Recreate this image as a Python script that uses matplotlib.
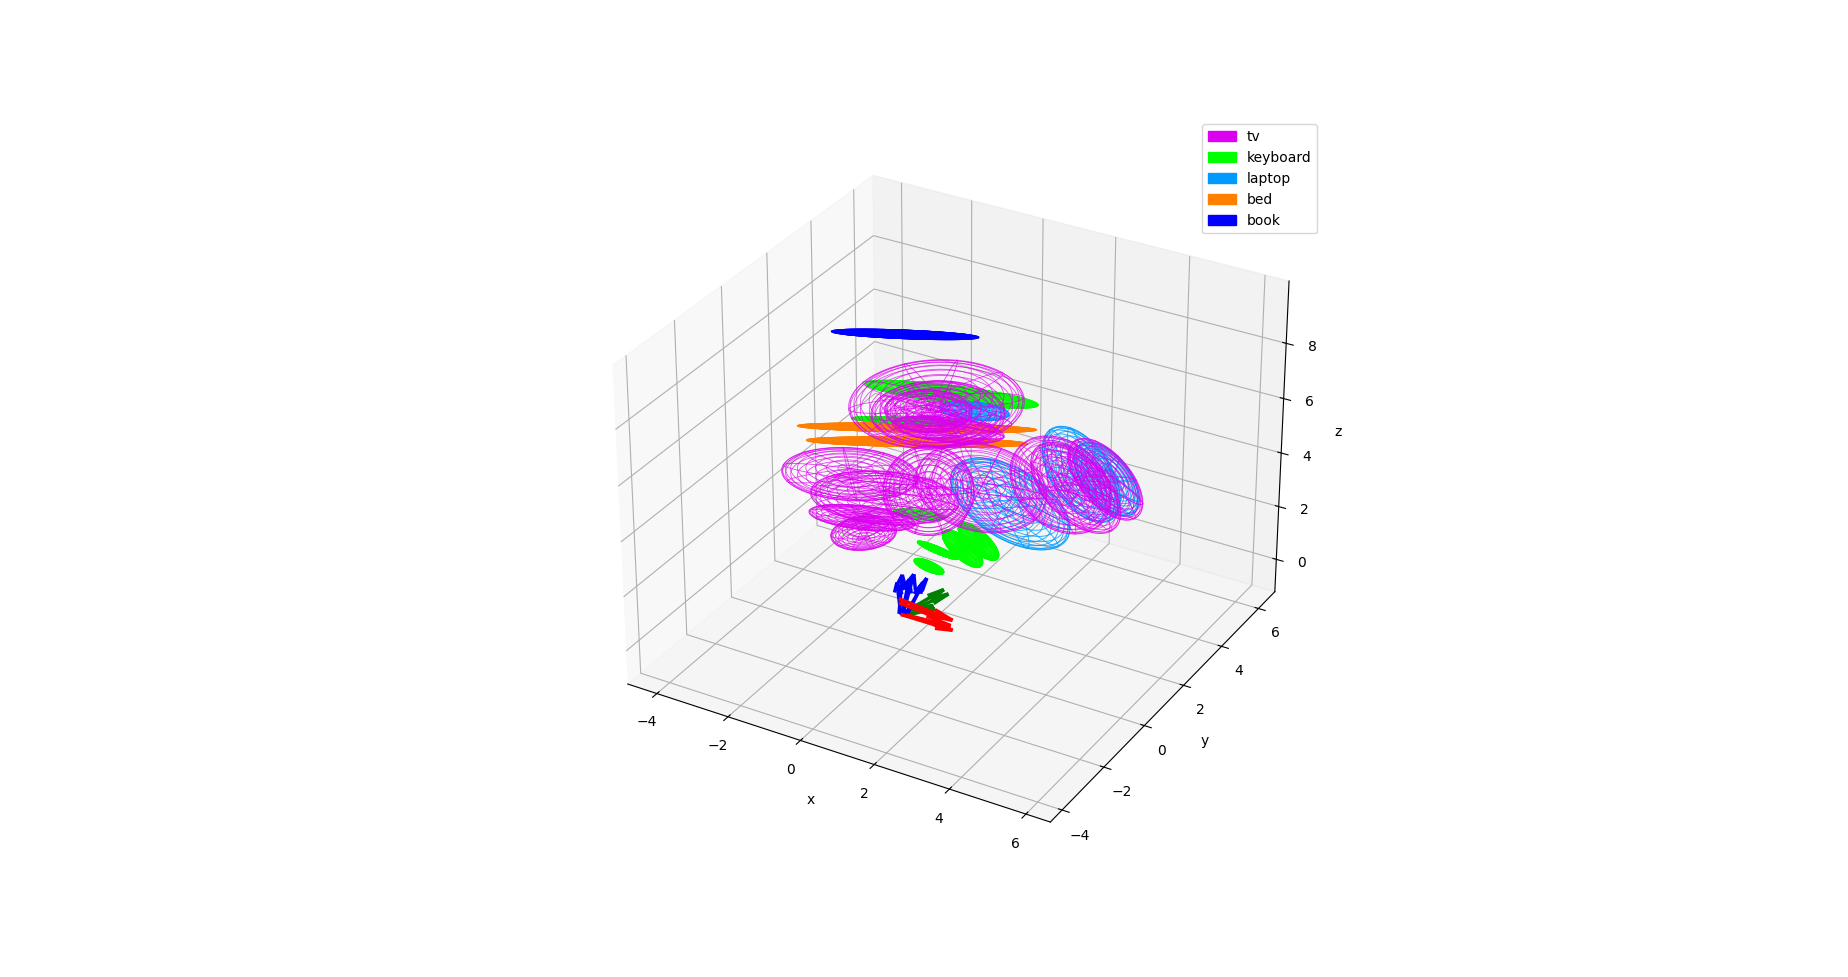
import numpy as np
import matplotlib
matplotlib.use("Agg")
import matplotlib.pyplot as plt
from matplotlib.patches import Patch

labels = ["tv", "keyboard", "laptop", "bed", "book"]
colors = ["#dc00f0", "#00ff00", "#0099ff", "#ff7f00", "#0000ff"]

# center x, y, z / radii / rotation about x, rotation about z (degrees)
tv_centers = [(-0.14, 2, 6.46), (-0.10, 2, 6.11), (0.17, 2, 5.62), (-0.37, 2, 6.11), (-2.59, 2, 2.95),
              (-1.61, 2, 2.44), (-2.26, 2, 1.43), (-2.22, 2, 0.86), (-0.37, 2, 3.17), (1.07, 2, 3.83),
              (3.23, 2, 4.77), (3.63, 2, 4.83), (4.41, 2, 5.44)]
tv_radii = [(2.05, 2.2, 0.3), (1.6, 1.6, 0.25), (1.38, 0.53, 0.2), (1.06, 1.0, 0.2), (1.7, 1.25, 0.2),
            (1.85, 1.22, 0.25), (1.35, 0.53, 0.15), (0.85, 0.74, 0.2), (1.1, 1.67, 0.2), (1.63, 1.62, 0.25),
            (1.36, 1.7, 0.2), (1.59, 1.36, 0.2), (1.44, 1.16, 0.2)]
tv_rx = [0, 0, 0, 0, 0, 0, 0, 0, 90, 90, 90, 90, 90]
tv_rz = [0, 0, 15, 0, 15, 15, 15, 70, 30, 15, 0, -20, -25]

keyboard_centers = [(0.26, 2, 6.94), (-0.91, 2, 5.55), (0.57, 2, 1.39), (1.01, 2, 1.83),
                    (-0.12, 2, 1.05), (-0.37, 2, 0.34), (-0.64, 2, 2.18)]
keyboard_radii = [(2.12, 0.4, 0.08), (1.38, 0.12, 0.05), (0.95, 0.3, 0.1), (0.95, 0.3, 0.1),
                  (0.64, 0.12, 0.05), (0.48, 0.18, 0.05), (0.64, 0.2, 0.05)]
keyboard_rx = [0, 0, 0, 0, 0, 0, 0]
keyboard_rz = [15, 25, -35, -35, -10, -15, 15]

laptop_centers = [(3.77, 2, 5.37), (1.87, 2, 3.56), (0.89, 2, 6.57), (4.45, 2, 5.46)]
laptop_radii = [(1.52, 1.45, 0.2), (1.83, 1.42, 0.25), (0.85, 0.42, 0.1), (1.25, 1.08, 0.2)]
laptop_rx = [90, 90, 0, 90]
laptop_rz = [-25, -10, 15, -25]

bed_centers = [(-0.69, 2, 5.37), (-0.69, 2, 4.85)]
bed_radii = [(2.86, 0.2, 0.04), (2.65, 0.22, 0.04)]
bed_rx = [0, 0]
bed_rz = [28, 28]

book_centers = [(-1.0, 2, 8.63)]
book_radii = [(1.75, 0.2, 0.04)]
book_rx = [0]
book_rz = [25]

# coordinate frames near the origin: start x, y, z and vector u, v, w
red_starts = [(0.02, 0, 0.1), (0.02, 0, 0.1), (-0.03, 0, 0.67), (-0.03, 0, 0.52), (0.18, 0, 0.15)]
red_vectors = [(1.38, 0, 0.15), (1.43, 0, 0.0), (1.48, 0, -0.2), (1.17, 0, -0.15), (1.06, 0, 0.05)]
green_starts = [(0.02, 0, 0.1), (0.02, 0, 0.1), (0.07, 0, 0.1), (0.13, 0, 0.1)]
green_vectors = [(0.64, 0.95, 0.52), (0.74, 1.0, 0.36), (0.42, 0.74, 0.0), (0.53, 0.53, 0.1)]
blue_starts = [(0.02, 0, 0.1), (-0.03, 0, 0.1), (0.07, 0, 0.1), (0.13, 0, 0.1), (0.18, 0, 0.1), (0.05, 0, 0.1)]
blue_vectors = [(-0.1, 0, 1.15), (0.1, 0, 1.5), (0.32, 0, 1.65), (0.21, 0.69, 1.0), (0.21, 0.42, 1.05), (0.21, 0, 1.4)]


def rotation(rx, rz):
    a, c = np.radians(rx), np.radians(rz)
    Rx = np.array([[1, 0, 0], [0, np.cos(a), -np.sin(a)], [0, np.sin(a), np.cos(a)]])
    Rz = np.array([[np.cos(c), -np.sin(c), 0], [np.sin(c), np.cos(c), 0], [0, 0, 1]])
    return Rz @ Rx


def draw_group(ax, centers, radii, rxs, rzs, color, lw, ring_step, order, alpha):
    u = np.linspace(0, 2 * np.pi, 61)
    v = np.linspace(0, np.pi, 37)
    for c, r, rx, rz in zip(centers, radii, rxs, rzs):
        p = np.stack([r[0] * np.outer(np.cos(u), np.sin(v)),
                      r[1] * np.outer(np.sin(u), np.sin(v)),
                      r[2] * np.outer(np.ones_like(u), np.cos(v))])
        q = np.tensordot(rotation(rx, rz), p, axes=1)
        ax.plot_wireframe(q[0] + c[0], q[1] + c[1], q[2] + c[2], rstride=6, cstride=ring_step,
                          color=color, linewidth=lw, alpha=alpha, zorder=order)


fig = plt.figure(figsize=(18.48, 9.77), dpi=100)
ax = fig.add_subplot(projection="3d", computed_zorder=False)

draw_group(ax, bed_centers, bed_radii, bed_rx, bed_rz, colors[3], 1.0, 1, 2, 0.75)
draw_group(ax, book_centers, book_radii, book_rx, book_rz, colors[4], 1.0, 1, 2, 0.75)
draw_group(ax, keyboard_centers, keyboard_radii, keyboard_rx, keyboard_rz, colors[1], 1.0, 1, 3, 0.75)
draw_group(ax, laptop_centers, laptop_radii, laptop_rx, laptop_rz, colors[2], 0.7, 2, 4, 0.8)
draw_group(ax, tv_centers, tv_radii, tv_rx, tv_rz, colors[0], 0.6, 2, 5, 0.7)

for starts, vectors, col in [(green_starts, green_vectors, "green"), (blue_starts, blue_vectors, "blue"),
                             (red_starts, red_vectors, "red")]:
    s, d = np.array(starts), np.array(vectors)
    ax.quiver(s[:, 0], s[:, 1], s[:, 2], d[:, 0], d[:, 1], d[:, 2], color=col, linewidth=2.5,
              arrow_length_ratio=0.35, zorder=6)

ax.set_xlim(-4.83, 6.63)
ax.set_ylim(-4.55, 6.91)
ax.set_zlim(-1.24, 10.22)
ax.set_xticks([-4, -2, 0, 2, 4, 6])
ax.set_yticks([-4, -2, 0, 2, 4, 6])
ax.set_zticks([0, 2, 4, 6, 8])
ax.set_xlabel("x")
ax.set_ylabel("y")
ax.set_zlabel("z")

handles = [Patch(color=c, label=l) for c, l in zip(colors, labels)]
ax.legend(handles=handles, loc="upper right", bbox_to_anchor=(1317 / 1848, 1 - 124.4 / 977),
          bbox_transform=fig.transFigure, borderaxespad=0)

fig.savefig("out.png", dpi=100)
